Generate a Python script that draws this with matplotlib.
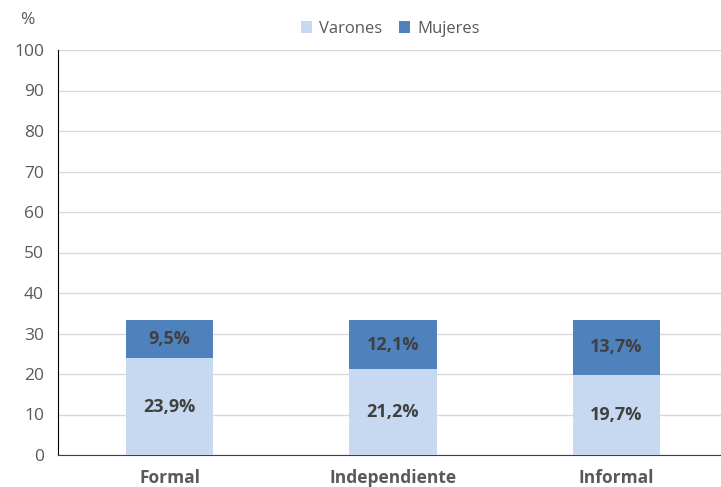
import matplotlib.pyplot as plt
import numpy as np

plt.rcParams['font.family'] = ['Open Sans', 'DejaVu Sans']

categorias = ['Formal', 'Independiente', 'Informal']
varones = [23.9, 21.2, 19.7]
mujeres = [9.5, 12.1, 13.7]
etiquetas_v = ['23,9%', '21,2%', '19,7%']
etiquetas_m = ['9,5%', '12,1%', '13,7%']

c_var = '#C6D9F1'
c_muj = '#4F81BD'
gris = '#595959'

fig = plt.figure(figsize=(7.21, 4.87), dpi=100)
ax = fig.add_axes([58/721, 32/487, 670/721, 405/487])

x = np.arange(len(categorias))
ancho = 0.39
b1 = ax.bar(x, varones, ancho, color=c_var, label='Varones', zorder=3)
b2 = ax.bar(x, mujeres, ancho, bottom=varones, color=c_muj, label='Mujeres', zorder=3)

for i in range(len(x)):
    ax.text(x[i], varones[i] / 2, etiquetas_v[i], ha='center', va='center',
            fontsize=13, fontweight='bold', color='#404040', zorder=4)
    ax.text(x[i], varones[i] + mujeres[i] / 2, etiquetas_m[i], ha='center', va='center',
            fontsize=13, fontweight='bold', color='#404040', zorder=4)

ax.set_xlim(-0.5, 2.5)
ax.set_ylim(0, 100)
ax.set_yticks(range(0, 101, 10))
ax.yaxis.grid(True, color='#D9D9D9', linewidth=1, zorder=0)
ax.set_xticks(x)
ax.set_xticklabels(categorias, fontsize=12.5, fontweight='bold', color=gris)
ax.tick_params(axis='y', labelsize=12.5, labelcolor=gris, length=0, pad=10)
ax.tick_params(axis='x', length=0, pad=10)

for s in ['top', 'right']:
    ax.spines[s].set_visible(False)
ax.spines['left'].set_color('black')
ax.spines['bottom'].set_color('#404040')

fig.text(27/721, 1 - 20/487, '%', fontsize=12.5, color=gris, ha='center', va='center')

fig.legend(handles=[b1, b2], loc='center', bbox_to_anchor=(390/721, 1 - 29/487),
           ncol=2, frameon=False, fontsize=12, handlelength=0.7, handleheight=0.7,
           columnspacing=1.0, handletextpad=0.4, labelcolor=gris)

fig.savefig('out.png', dpi=100)
